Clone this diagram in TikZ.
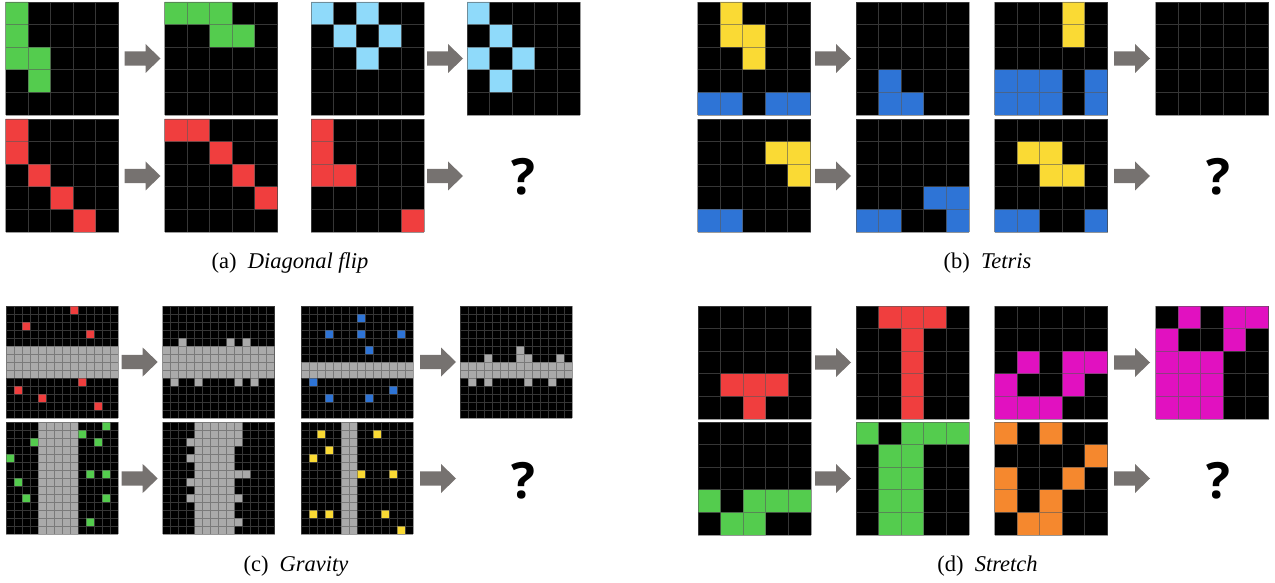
\documentclass[tikz,border=0pt]{standalone}
\usepackage{fontspec}
\setmainfont{Liberation Serif}
\newfontfamily\qmarkfont{Open Sans}

\definecolor{cellgreen}{RGB}{84,204,78}
\definecolor{cellsky}{RGB}{143,218,250}
\definecolor{cellred}{RGB}{240,62,62}
\definecolor{cellyellow}{RGB}{250,218,52}
\definecolor{cellblue}{RGB}{46,116,214}
\definecolor{cellmagenta}{RGB}{225,17,192}
\definecolor{cellorange}{RGB}{245,136,46}
\definecolor{cellgray}{RGB}{170,170,170}
\definecolor{arrowgray}{RGB}{118,114,112}
\definecolor{linegray}{RGB}{90,90,90}

\begin{document}
\begin{tikzpicture}[x=1pt,y=-1pt,
  board/.style={fill=black},
  gridline/.style={draw=linegray, draw opacity=0.6, line width=0.9pt},
  finegrid/.style={draw=linegray, draw opacity=0.6, line width=0.6pt},
  blockarrow/.style={fill=arrowgray},
  qmark/.style={font=\qmarkfont\bfseries\fontsize{50}{50}\selectfont},
  subcap/.style={font=\fontsize{22.5}{27}\selectfont}]
\useasboundingbox (0,0) rectangle (1275,583);

% (a) diagonal flip, top row
\begin{scope}[shift={(5.5,115)},x=22.6pt,y=22.6pt]
\fill[board] (0,0) rectangle (5,5);
\fill[cellgreen] (0,4) rectangle +(1,1) (0,3) rectangle +(1,1) (0,2) rectangle +(1,1) (1,2) rectangle +(1,1) (1,1) rectangle +(1,1);
\draw[gridline,step=1] (0,0) grid (5,5);
\end{scope}
\begin{scope}[shift={(164.5,115)},x=22.6pt,y=22.6pt]
\fill[board] (0,0) rectangle (5,5);
\fill[cellgreen] (0,4) rectangle +(1,1) (1,4) rectangle +(1,1) (2,4) rectangle +(1,1) (2,3) rectangle +(1,1) (3,3) rectangle +(1,1);
\draw[gridline,step=1] (0,0) grid (5,5);
\end{scope}
\begin{scope}[shift={(311,115)},x=22.6pt,y=22.6pt]
\fill[board] (0,0) rectangle (5,5);
\fill[cellsky] (0,4) rectangle +(1,1) (2,4) rectangle +(1,1) (1,3) rectangle +(1,1) (3,3) rectangle +(1,1) (2,2) rectangle +(1,1);
\draw[gridline,step=1] (0,0) grid (5,5);
\end{scope}
\begin{scope}[shift={(467,115)},x=22.6pt,y=22.6pt]
\fill[board] (0,0) rectangle (5,5);
\fill[cellsky] (0,4) rectangle +(1,1) (1,3) rectangle +(1,1) (0,2) rectangle +(1,1) (2,2) rectangle +(1,1) (1,1) rectangle +(1,1);
\draw[gridline,step=1] (0,0) grid (5,5);
\end{scope}
% (a) bottom row
\begin{scope}[shift={(5.5,232)},x=22.6pt,y=22.6pt]
\fill[board] (0,0) rectangle (5,5);
\fill[cellred] (0,4) rectangle +(1,1) (0,3) rectangle +(1,1) (1,2) rectangle +(1,1) (2,1) rectangle +(1,1) (3,0) rectangle +(1,1);
\draw[gridline,step=1] (0,0) grid (5,5);
\end{scope}
\begin{scope}[shift={(164.5,232)},x=22.6pt,y=22.6pt]
\fill[board] (0,0) rectangle (5,5);
\fill[cellred] (0,4) rectangle +(1,1) (1,4) rectangle +(1,1) (2,3) rectangle +(1,1) (3,2) rectangle +(1,1) (4,1) rectangle +(1,1);
\draw[gridline,step=1] (0,0) grid (5,5);
\end{scope}
\begin{scope}[shift={(311,232)},x=22.6pt,y=22.6pt]
\fill[board] (0,0) rectangle (5,5);
\fill[cellred] (0,4) rectangle +(1,1) (0,3) rectangle +(1,1) (0,2) rectangle +(1,1) (1,2) rectangle +(1,1) (4,0) rectangle +(1,1);
\draw[gridline,step=1] (0,0) grid (5,5);
\end{scope}
\fill[blockarrow] (124.5,51.3) -- ++(21,0) -- ++(0,-7.3) -- ++(15,14.5) -- ++(-15,14.5) -- ++(0,-7.3) -- ++(-21,0) -- cycle;
\fill[blockarrow] (427,51.3) -- ++(21,0) -- ++(0,-7.3) -- ++(15,14.5) -- ++(-15,14.5) -- ++(0,-7.3) -- ++(-21,0) -- cycle;
\fill[blockarrow] (124.5,168.8) -- ++(21,0) -- ++(0,-7.3) -- ++(15,14.5) -- ++(-15,14.5) -- ++(0,-7.3) -- ++(-21,0) -- cycle;
\fill[blockarrow] (427,168.8) -- ++(21,0) -- ++(0,-7.3) -- ++(15,14.5) -- ++(-15,14.5) -- ++(0,-7.3) -- ++(-21,0) -- cycle;
\node[qmark] (qa) at (523,176.5) {?};
\node[subcap] (capa) at (290,263) {(a)\ \ \textit{Diagonal flip}};

% (b) tetris, top row
\begin{scope}[shift={(697.5,115)},x=22.6pt,y=22.6pt]
\fill[board] (0,0) rectangle (5,5);
\fill[cellyellow] (1,4) rectangle +(1,1) (1,3) rectangle +(1,1) (2,3) rectangle +(1,1) (2,2) rectangle +(1,1);
\fill[cellblue] (0,0) rectangle (2,1) (3,0) rectangle (5,1);
\draw[gridline,step=1] (0,0) grid (5,5);
\end{scope}
\begin{scope}[shift={(856,115)},x=22.6pt,y=22.6pt]
\fill[board] (0,0) rectangle (5,5);
\fill[cellblue] (1,1) rectangle +(1,1) (1,0) rectangle +(1,1) (2,0) rectangle +(1,1);
\draw[gridline,step=1] (0,0) grid (5,5);
\end{scope}
\begin{scope}[shift={(994.5,115)},x=22.6pt,y=22.6pt]
\fill[board] (0,0) rectangle (5,5);
\fill[cellyellow] (3,4) rectangle +(1,1) (3,3) rectangle +(1,1);
\fill[cellblue] (0,0) rectangle (3,2) (4,0) rectangle (5,2);
\draw[gridline,step=1] (0,0) grid (5,5);
\end{scope}
\begin{scope}[shift={(1155.5,115)},x=22.6pt,y=22.6pt]
\fill[board] (0,0) rectangle (5,5);
\draw[gridline,step=1] (0,0) grid (5,5);
\end{scope}
% (b) bottom row
\begin{scope}[shift={(697.5,232)},x=22.6pt,y=22.6pt]
\fill[board] (0,0) rectangle (5,5);
\fill[cellyellow] (3,3) rectangle +(1,1) (4,3) rectangle +(1,1) (4,2) rectangle +(1,1);
\fill[cellblue] (0,0) rectangle (2,1);
\draw[gridline,step=1] (0,0) grid (5,5);
\end{scope}
\begin{scope}[shift={(856,232)},x=22.6pt,y=22.6pt]
\fill[board] (0,0) rectangle (5,5);
\fill[cellblue] (3,1) rectangle (5,2) (0,0) rectangle (2,1) (4,0) rectangle +(1,1);
\draw[gridline,step=1] (0,0) grid (5,5);
\end{scope}
\begin{scope}[shift={(994.5,232)},x=22.6pt,y=22.6pt]
\fill[board] (0,0) rectangle (5,5);
\fill[cellyellow] (1,3) rectangle +(1,1) (2,3) rectangle +(1,1) (2,2) rectangle +(1,1) (3,2) rectangle +(1,1);
\fill[cellblue] (0,0) rectangle (2,1) (4,0) rectangle +(1,1);
\draw[gridline,step=1] (0,0) grid (5,5);
\end{scope}
\fill[blockarrow] (815,51.3) -- ++(21,0) -- ++(0,-7.3) -- ++(15,14.5) -- ++(-15,14.5) -- ++(0,-7.3) -- ++(-21,0) -- cycle;
\fill[blockarrow] (1114,51.3) -- ++(21,0) -- ++(0,-7.3) -- ++(15,14.5) -- ++(-15,14.5) -- ++(0,-7.3) -- ++(-21,0) -- cycle;
\fill[blockarrow] (815,168.8) -- ++(21,0) -- ++(0,-7.3) -- ++(15,14.5) -- ++(-15,14.5) -- ++(0,-7.3) -- ++(-21,0) -- cycle;
\fill[blockarrow] (1114,168.8) -- ++(21,0) -- ++(0,-7.3) -- ++(15,14.5) -- ++(-15,14.5) -- ++(0,-7.3) -- ++(-21,0) -- cycle;
\node[qmark] (qb) at (1218,176.5) {?};
\node[subcap] (capb) at (987.5,263) {(b)\ \ \textit{Tetris}};

% (c) gravity, top row
\begin{scope}[shift={(6,418)},x=8pt,y=8pt]
\fill[board] (0,0) rectangle (14,14);
\fill[cellgray] (0,5) rectangle (14,9);
\fill[cellred] (8,13) rectangle +(1,1) (2,11) rectangle +(1,1) (10,10) rectangle +(1,1) (9,4) rectangle +(1,1) (1,3) rectangle +(1,1) (4,2) rectangle +(1,1) (11,1) rectangle +(1,1);
\draw[finegrid,step=1] (0,0) grid (14,14);
\end{scope}
\begin{scope}[shift={(162.5,418)},x=8pt,y=8pt]
\fill[board] (0,0) rectangle (14,14);
\fill[cellgray] (0,5) rectangle (14,9) (2,9) rectangle +(1,1) (8,9) rectangle +(1,1) (10,9) rectangle +(1,1) (1,4) rectangle +(1,1) (4,4) rectangle +(1,1) (9,4) rectangle +(1,1) (11,4) rectangle +(1,1);
\draw[finegrid,step=1] (0,0) grid (14,14);
\end{scope}
\begin{scope}[shift={(301,418)},x=8pt,y=8pt]
\fill[board] (0,0) rectangle (14,14);
\fill[cellgray] (0,5) rectangle (14,7);
\fill[cellblue] (7,12) rectangle +(1,1) (3,10) rectangle +(1,1) (7,10) rectangle +(1,1) (12,10) rectangle +(1,1) (8,8) rectangle +(1,1) (1,4) rectangle +(1,1) (11,3) rectangle +(1,1) (3,2) rectangle +(1,1) (8,2) rectangle +(1,1);
\draw[finegrid,step=1] (0,0) grid (14,14);
\end{scope}
\begin{scope}[shift={(460,418)},x=8pt,y=8pt]
\fill[board] (0,0) rectangle (14,14);
\fill[cellgray] (0,5) rectangle (14,7) (3,7) rectangle +(1,1) (7,7) rectangle +(1,1) (8,7) rectangle +(1,1) (12,7) rectangle +(1,1) (7,8) rectangle +(1,1) (1,4) rectangle +(1,1) (3,4) rectangle +(1,1) (8,4) rectangle +(1,1) (11,4) rectangle +(1,1);
\draw[finegrid,step=1] (0,0) grid (14,14);
\end{scope}
% (c) bottom row
\begin{scope}[shift={(6,534)},x=8pt,y=8pt]
\fill[board] (0,0) rectangle (14,14);
\fill[cellgray] (4,0) rectangle (9,14);
\fill[cellgreen] (12,13) rectangle +(1,1) (9,12) rectangle +(1,1) (3,11) rectangle +(1,1) (11,11) rectangle +(1,1) (0,9) rectangle +(1,1) (10,7) rectangle +(1,1) (12,7) rectangle +(1,1) (1,6) rectangle +(1,1) (2,4) rectangle +(1,1) (12,4) rectangle +(1,1) (10,1) rectangle +(1,1);
\draw[finegrid,step=1] (0,0) grid (14,14);
\end{scope}
\begin{scope}[shift={(162.5,534)},x=8pt,y=8pt]
\fill[board] (0,0) rectangle (14,14);
\fill[cellgray] (4,0) rectangle (9,14) (3,11) rectangle +(1,1) (3,9) rectangle +(1,1) (3,6) rectangle +(1,1) (3,4) rectangle +(1,1) (9,11) rectangle (10,14) (9,7) rectangle (11,8) (9,4) rectangle +(1,1) (9,1) rectangle +(1,1);
\draw[finegrid,step=1] (0,0) grid (14,14);
\end{scope}
\begin{scope}[shift={(301,534)},x=8pt,y=8pt]
\fill[board] (0,0) rectangle (14,14);
\fill[cellgray] (5,0) rectangle (7,14);
\fill[cellyellow] (2,12) rectangle +(1,1) (9,12) rectangle +(1,1) (3,10) rectangle +(1,1) (1,9) rectangle +(1,1) (7,7) rectangle +(1,1) (11,7) rectangle +(1,1) (1,2) rectangle +(1,1) (3,2) rectangle +(1,1) (10,2) rectangle +(1,1) (12,0) rectangle +(1,1);
\draw[finegrid,step=1] (0,0) grid (14,14);
\end{scope}
\fill[blockarrow] (121.7,354.8) -- ++(21,0) -- ++(0,-7.3) -- ++(15,14.5) -- ++(-15,14.5) -- ++(0,-7.3) -- ++(-21,0) -- cycle;
\fill[blockarrow] (420,354.8) -- ++(21,0) -- ++(0,-7.3) -- ++(15,14.5) -- ++(-15,14.5) -- ++(0,-7.3) -- ++(-21,0) -- cycle;
\fill[blockarrow] (121.7,471.3) -- ++(21,0) -- ++(0,-7.3) -- ++(15,14.5) -- ++(-15,14.5) -- ++(0,-7.3) -- ++(-21,0) -- cycle;
\fill[blockarrow] (420,471.3) -- ++(21,0) -- ++(0,-7.3) -- ++(15,14.5) -- ++(-15,14.5) -- ++(0,-7.3) -- ++(-21,0) -- cycle;
\node[qmark] (qc) at (523,481) {?};
\node[subcap] (capc) at (296,566) {(c)\ \ \textit{Gravity}};

% (d) stretch, top row
\begin{scope}[shift={(698,419)},x=22.6pt,y=22.6pt]
\fill[board] (0,0) rectangle (5,5);
\fill[cellred] (1,1) rectangle (4,2) (2,0) rectangle +(1,1);
\draw[gridline,step=1] (0,0) grid (5,5);
\end{scope}
\begin{scope}[shift={(856,419)},x=22.6pt,y=22.6pt]
\fill[board] (0,0) rectangle (5,5);
\fill[cellred] (1,4) rectangle (4,5) (2,0) rectangle (3,4);
\draw[gridline,step=1] (0,0) grid (5,5);
\end{scope}
\begin{scope}[shift={(994.5,419)},x=22.6pt,y=22.6pt]
\fill[board] (0,0) rectangle (5,5);
\fill[cellmagenta] (1,2) rectangle +(1,1) (3,2) rectangle (5,3) (0,1) rectangle +(1,1) (3,1) rectangle +(1,1) (0,0) rectangle (3,1);
\draw[gridline,step=1] (0,0) grid (5,5);
\end{scope}
\begin{scope}[shift={(1155.5,419)},x=22.6pt,y=22.6pt]
\fill[board] (0,0) rectangle (5,5);
\fill[cellmagenta] (1,4) rectangle +(1,1) (3,4) rectangle (5,5) (0,3) rectangle +(1,1) (3,3) rectangle +(1,1) (0,0) rectangle (3,3);
\draw[gridline,step=1] (0,0) grid (5,5);
\end{scope}
% (d) bottom row
\begin{scope}[shift={(698,535)},x=22.6pt,y=22.6pt]
\fill[board] (0,0) rectangle (5,5);
\fill[cellgreen] (0,1) rectangle +(1,1) (2,1) rectangle (5,2) (1,0) rectangle (3,1);
\draw[gridline,step=1] (0,0) grid (5,5);
\end{scope}
\begin{scope}[shift={(856,535)},x=22.6pt,y=22.6pt]
\fill[board] (0,0) rectangle (5,5);
\fill[cellgreen] (0,4) rectangle +(1,1) (2,4) rectangle (5,5) (1,0) rectangle (3,4);
\draw[gridline,step=1] (0,0) grid (5,5);
\end{scope}
\begin{scope}[shift={(994.5,535)},x=22.6pt,y=22.6pt]
\fill[board] (0,0) rectangle (5,5);
\fill[cellorange] (0,4) rectangle +(1,1) (2,4) rectangle +(1,1) (4,3) rectangle +(1,1) (0,2) rectangle +(1,1) (3,2) rectangle +(1,1) (0,1) rectangle +(1,1) (2,1) rectangle +(1,1) (1,0) rectangle (3,1);
\draw[gridline,step=1] (0,0) grid (5,5);
\end{scope}
\fill[blockarrow] (815,355.3) -- ++(21,0) -- ++(0,-7.3) -- ++(15,14.5) -- ++(-15,14.5) -- ++(0,-7.3) -- ++(-21,0) -- cycle;
\fill[blockarrow] (1114,355.3) -- ++(21,0) -- ++(0,-7.3) -- ++(15,14.5) -- ++(-15,14.5) -- ++(0,-7.3) -- ++(-21,0) -- cycle;
\fill[blockarrow] (815,471.3) -- ++(21,0) -- ++(0,-7.3) -- ++(15,14.5) -- ++(-15,14.5) -- ++(0,-7.3) -- ++(-21,0) -- cycle;
\fill[blockarrow] (1114,471.3) -- ++(21,0) -- ++(0,-7.3) -- ++(15,14.5) -- ++(-15,14.5) -- ++(0,-7.3) -- ++(-21,0) -- cycle;
\node[qmark] (qd) at (1218,481) {?};
\node[subcap] (capd) at (987.5,566) {(d)\ \ \textit{Stretch}};
\end{tikzpicture}
\end{document}
